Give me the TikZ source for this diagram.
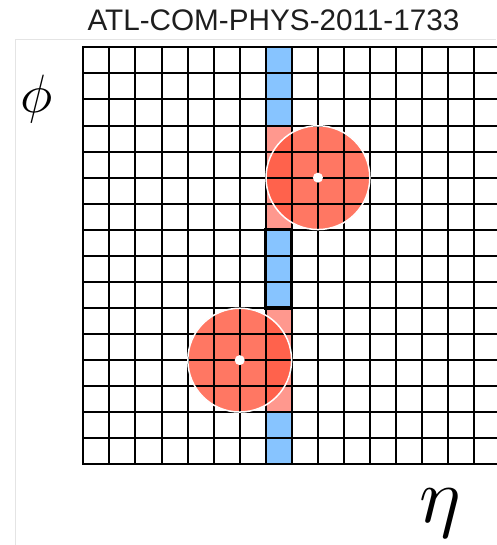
\documentclass[tikz,border=0pt]{standalone}
\usepackage{fontspec}
\setmainfont{Liberation Sans}
\definecolor{cellblue}{RGB}{135,196,255}
\definecolor{cellpink}{RGB}{255,152,142}
\definecolor{jetred}{RGB}{255,85,60}
\definecolor{framegray}{RGB}{228,228,228}
\definecolor{titlegray}{RGB}{30,30,30}
\tikzset{
  gridline/.style={black, line width=2pt},
  jet/.style={circle, fill=jetred, fill opacity=0.8, minimum size=104.3pt, inner sep=0pt},
  jetring/.style={white, line width=1.5pt},
  jetdot/.style={circle, fill=white, minimum size=10pt, inner sep=0pt},
  towerbox/.style={black, line width=3.2pt},
  framestyle/.style={framegray, line width=1pt}
}
\begin{document}
\begin{tikzpicture}[x=1pt,y=-1pt]
\useasboundingbox (0,0) rectangle (496,545);
\pgfmathsetmacro{\gx}{83.3}
\pgfmathsetmacro{\gy}{47.3}
\pgfmathsetmacro{\gs}{26.07}
% frame
\draw[framestyle] (496,40) -- (15,40) -- (15,545);
% title
\node[anchor=base, inner sep=0pt, text=titlegray, font=\fontsize{29.7}{32}\selectfont] (title) at (273.5,31) {ATL-COM-PHYS-2011-1733};
% axis labels
\node[scale=5.4, inner sep=0pt] (phi) at (37,99) {$\phi$};
\node[scale=7.8, inner sep=0pt] (eta) at (440,513) {$\eta$};
% coloured cells in column 7
\fill[cellblue] ({\gx+7*\gs},{\gy}) rectangle ({\gx+8*\gs},{\gy+3*\gs});
\fill[cellpink] ({\gx+7*\gs},{\gy+3*\gs}) rectangle ({\gx+8*\gs},{\gy+7*\gs});
\fill[cellblue] ({\gx+7*\gs},{\gy+7*\gs}) rectangle ({\gx+8*\gs},{\gy+10*\gs});
\fill[cellpink] ({\gx+7*\gs},{\gy+10*\gs}) rectangle ({\gx+8*\gs},{\gy+14*\gs});
\fill[cellblue] ({\gx+7*\gs},{\gy+14*\gs}) rectangle ({\gx+8*\gs},{\gy+16*\gs});
% jets (fill)
\node[jet] (jetA) at ({\gx+9*\gs},{\gy+5*\gs}) {};
\node[jet] (jetB) at ({\gx+6*\gs},{\gy+12*\gs}) {};
% grid
\foreach \i in {0,...,16} {
  \draw[gridline] ({\gx-1},{\gy+\i*\gs}) -- (497,{\gy+\i*\gs});
}
\foreach \i in {0,...,15} {
  \draw[gridline] ({\gx+\i*\gs},{\gy}) -- ({\gx+\i*\gs},{\gy+16*\gs});
}
\draw[towerbox] ({\gx+7*\gs},{\gy+7*\gs}) rectangle ({\gx+8*\gs},{\gy+10*\gs});
% jet outlines and centres
\draw[jetring] (jetA.center) circle[radius=51.9];
\draw[jetring] (jetB.center) circle[radius=51.9];
\node[jetdot] (dotA) at (jetA.center) {};
\node[jetdot] (dotB) at (jetB.center) {};
\end{tikzpicture}
\end{document}
